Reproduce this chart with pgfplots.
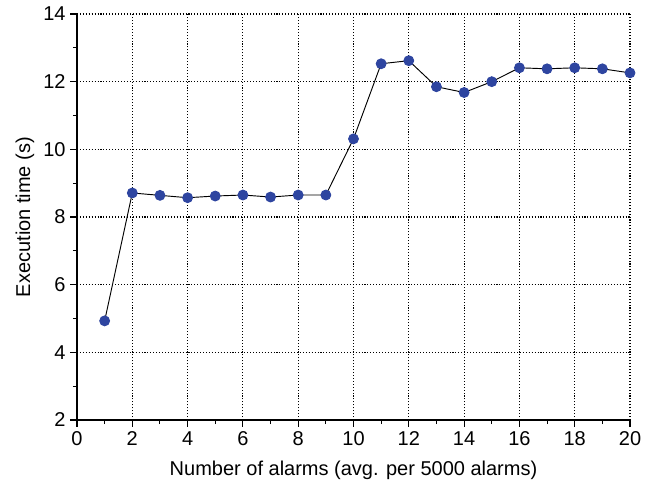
\documentclass[border=0pt]{standalone}
\usepackage{fontspec}
\setmainfont{Liberation Sans}
\usepackage{pgfplots}
\pgfplotsset{compat=1.18}
\definecolor{markblue}{HTML}{2E45A0}
\begin{document}
\begin{tikzpicture}
\begin{axis}[
  scale only axis,
  width=414.75pt, height=304.5pt,
  xmin=0, xmax=20, ymin=2, ymax=14,
  xtick={0,2,...,20}, ytick={2,4,...,14},
  minor xtick={1,3,...,19}, minor ytick={3,5,...,13},
  axis x line*=bottom, axis y line*=left,
  axis line style={-, line width=0.9pt},
  tick align=outside,
  major tick length=5pt, minor tick length=3pt,
  tick style={line width=0.8pt, black},
  grid=major,
  major grid style={dash pattern=on 0.8pt off 1.4pt, line width=0.8pt, black},
  font=\fontsize{15}{18}\selectfont,
  /pgf/number format/assume math mode=true,
  ticklabel style={font=\fontsize{15}{18}\selectfont},
  xlabel={Number of alarms (avg. per 5000 alarms)},
  ylabel={Execution time (s)},
  xlabel style={yshift=-5pt},
  ylabel style={yshift=0pt},
  clip=false,
]
\addplot[black, line width=0.7pt, mark=*, mark size=3.7pt, mark options={fill=markblue, draw=markblue}]
coordinates {
(1,4.93) (2,8.71) (3,8.64) (4,8.57) (5,8.62) (6,8.65) (7,8.59) (8,8.65) (9,8.65) (10,10.31)
(11,12.53) (12,12.62) (13,11.85) (14,11.68) (15,12.00) (16,12.41) (17,12.38) (18,12.41) (19,12.38) (20,12.26)
};
\end{axis}
\pgfresetboundingbox
\useasboundingbox (-57.75pt,-49.5pt) rectangle (428.25pt,315pt);
\end{tikzpicture}
\end{document}
